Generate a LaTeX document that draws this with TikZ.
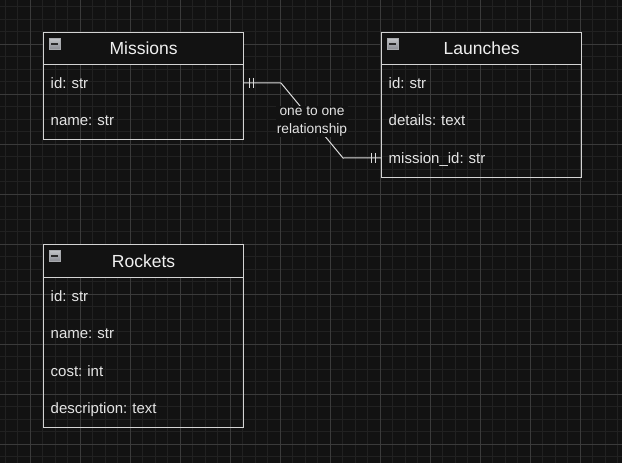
\documentclass[tikz,border=0pt]{standalone}
\usepackage{fontspec}
\setmainfont{Liberation Sans}
\frenchspacing
\usetikzlibrary{calc}
\definecolor{bg}{HTML}{121212}
\definecolor{gridminor}{HTML}{212121}
\definecolor{gridmajor}{HTML}{3A3A3A}
\definecolor{boxc}{HTML}{D4D4D4}
\definecolor{titlec}{HTML}{F0F0F0}
\definecolor{fieldc}{HTML}{E4E4E4}
\definecolor{linec}{HTML}{DCDCDC}
\definecolor{icontop}{HTML}{C4C6CA}
\definecolor{iconbot}{HTML}{8C8E94}
\definecolor{iconedge}{HTML}{A8AAAE}
\definecolor{iconbar}{HTML}{2A2A2A}
\begin{document}
\begin{tikzpicture}[x=1pt,y=-1pt,
  hdr/.style={draw=boxc, line width=1.2pt, fill=bg, minimum width=200pt, anchor=north west,
    inner sep=0pt, font=\fontsize{17.5}{20}\selectfont, text=titlec, text height=12.6pt, text depth=0pt},
  body/.style={draw=boxc, line width=1.2pt, minimum width=200pt, anchor=north west, inner sep=0pt},
  row/.style={minimum width=200pt, minimum height=37.5pt, anchor=north west, inner xsep=7.5pt, inner ysep=0pt,
    text width=185pt, align=left, font=\fontsize{15}{18}\selectfont\frenchspacing, text=fieldc, text height=10.6pt, text depth=0pt},
  conn/.style={draw=linec, line width=1pt},
  tick/.style={draw=linec, line width=1pt},
  lbl/.style={fill=bg, inner sep=1pt, align=center, font=\fontsize{13.75}{17.5}\selectfont, text=fieldc}
]
\fill[bg] (0,0) rectangle (622,463);
\useasboundingbox (0,0) rectangle (622,463);
% grid
\foreach \i in {0,...,49} {\draw[gridminor, line width=1pt] ({5+12.5*\i},0) -- ({5+12.5*\i},463);}
\foreach \i in {0,...,36} {\draw[gridminor, line width=1pt] (0,{6.8+12.5*\i}) -- (622,{6.8+12.5*\i});}
\foreach \i in {0,...,11} {\draw[gridmajor, line width=1pt] ({30+50*\i},0) -- ({30+50*\i},463);}
\foreach \i in {0,...,8} {\draw[gridmajor, line width=1pt] (0,{44.3+50*\i}) -- (622,{44.3+50*\i});}

% Missions
\node[hdr, minimum height=32pt] (mh) at (43,32) {Missions};
\node[body, minimum height=75pt] (mb) at (43,64) {};
\node[row] (m-id) at (43,64) {id: str};
\node[row] (m-name) at (43,101.5) {name: str};

% Launches
\node[hdr, minimum height=32pt] (lh) at (381,32) {Launches};
\node[body, minimum height=112.5pt] (lb) at (381,64) {};
\node[row] (l-id) at (381,64) {id: str};
\node[row] (l-det) at (381,101.5) {details: text};
\node[row] (l-mid) at (381,139) {mission\_id: str};

% Rockets
\node[hdr, minimum height=33pt] (rh) at (43,244) {Rockets};
\node[body, minimum height=150pt] (rb) at (43,277) {};
\node[row] (r-id) at (43,277) {id: str};
\node[row] (r-name) at (43,314.5) {name: str};
\node[row] (r-cost) at (43,352) {cost: int};
\node[row] (r-desc) at (43,389.5) {description: text};

% collapse icons
\foreach \h in {mh,lh,rh} {
  \shade[top color=icontop, bottom color=iconbot, draw=iconedge, line width=0.8pt]
    ($(\h.north west)+(6,6)$) rectangle ++(11,11);
  \fill[iconbar] ($(\h.north west)+(8,10.6)$) rectangle ++(7,1.9);
}

% connector
\coordinate (c1) at (281,83);
\coordinate (c2) at (343,158);
\draw[conn] (m-id.east) -- (c1) -- (c2) -- (l-mid.west);
\draw[tick] ($(m-id.east)+(6,-5)$) -- ++(0,10);
\draw[tick] ($(m-id.east)+(10,-5)$) -- ++(0,10);
\draw[tick] ($(l-mid.west)+(-6,-5)$) -- ++(0,10);
\draw[tick] ($(l-mid.west)+(-10,-5)$) -- ++(0,10);
\node[lbl] (rel) at ($(c1)!0.5!(c2)+(0,1)$) {one to one\\relationship};
\end{tikzpicture}
\end{document}
